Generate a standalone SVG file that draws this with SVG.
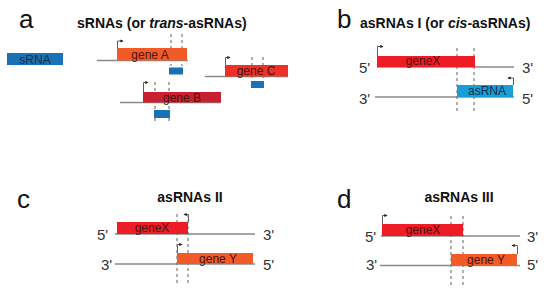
<svg xmlns="http://www.w3.org/2000/svg" width="550" height="293" viewBox="0 0 550 293">
<defs>
<marker id="ah" viewBox="0 0 6 6" refX="5" refY="3" markerWidth="4" markerHeight="4" orient="auto">
<path d="M0,0 L6,3 L0,6 z" fill="#222"/>
</marker>
<style>
.letter{font-family:"Liberation Sans",Arial,sans-serif;font-size:26px;fill:#111}
.title{font-family:"Liberation Sans",Arial,sans-serif;font-size:14px;font-weight:bold;fill:#111}
.end{font-family:"Liberation Sans",Arial,sans-serif;font-size:15px;fill:#333}
.lbl{font-family:"Liberation Sans",Arial,sans-serif;font-size:12px;fill:#4a1414;text-anchor:middle}
.lblb{font-family:"Liberation Sans",Arial,sans-serif;font-size:12px;fill:#103048;text-anchor:middle}
.strand{stroke:#8a8a8a;stroke-width:1.3;fill:none}
.dash{stroke:#7a7a7a;stroke-width:1.2;stroke-dasharray:3,3;fill:none}
.tss{stroke:#333;stroke-width:0.8;fill:none;marker-end:url(#ah)}
.red{fill:#ee1c24}
.orng{fill:#f25a28}
.blue{fill:#1a72b6}
.cyan{fill:#1a9ed6}
</style>
</defs>
<rect width="550" height="293" fill="#fff"/>

<!-- Panel titles -->
<text class="letter" x="19" y="28">a</text>
<text class="title" x="77" y="28">sRNAs (or <tspan font-style="italic">trans</tspan>-asRNAs)</text>
<text class="letter" x="337" y="28">b</text>
<text class="title" x="360" y="28">asRNAs I (or <tspan font-style="italic">cis</tspan>-asRNAs)</text>
<text class="letter" x="17" y="208">c</text>
<text class="title" x="190" y="202" text-anchor="middle">asRNAs II</text>
<text class="letter" x="337" y="208">d</text>
<text class="title" x="459" y="202" text-anchor="middle">asRNAs III</text>

<!-- End labels -->
<g id="ends">
<text class="end" x="359" y="73">5'</text>
<text class="end" x="522" y="73">3'</text>
<text class="end" x="359" y="104">3'</text>
<text class="end" x="522" y="104">5'</text>
<text class="end" x="97" y="240">5'</text>
<text class="end" x="263" y="240">3'</text>
<text class="end" x="101" y="270">3'</text>
<text class="end" x="263" y="270">5'</text>
<text class="end" x="365" y="242">5'</text>
<text class="end" x="527" y="242">3'</text>
<text class="end" x="366" y="270">3'</text>
<text class="end" x="527" y="270">5'</text>
</g>

<!-- Strands and markers -->
<g id="connectors">
<!-- panel a -->
<line class="strand" x1="97" y1="60.5" x2="188" y2="60.5"/>
<line class="strand" x1="205" y1="76.5" x2="288" y2="76.5"/>
<line class="strand" x1="120" y1="102.5" x2="221" y2="102.5"/>
<path class="tss" d="M117.5,48 V41 H123"/>
<path class="tss" d="M225.5,65 V57.5 H230"/>
<path class="tss" d="M143.5,92 V82.5 H148"/>
<line class="dash" x1="171" y1="34" x2="171" y2="66"/>
<line class="dash" x1="182" y1="34" x2="182" y2="66"/>
<line class="dash" x1="252" y1="57" x2="252" y2="81"/>
<line class="dash" x1="263" y1="57" x2="263" y2="81"/>
<line class="dash" x1="155" y1="82" x2="155" y2="123"/>
<line class="dash" x1="169" y1="82" x2="169" y2="123"/>
<!-- panel b -->
<line class="strand" x1="377" y1="67" x2="514" y2="67"/>
<line class="strand" x1="375" y1="97" x2="514" y2="97"/>
<path class="tss" d="M377.5,56 V46.5 H383"/>
<path class="tss" d="M513.5,85 V78 H508"/>
<line class="dash" x1="457" y1="48" x2="457" y2="112"/>
<line class="dash" x1="474" y1="48" x2="474" y2="112"/>
<!-- panel c -->
<line class="strand" x1="115" y1="234" x2="255" y2="234"/>
<line class="strand" x1="115" y1="264" x2="255" y2="264"/>
<path class="tss" d="M188.5,222 V214.5 H184"/>
<path class="tss" d="M177.5,253 V244.5 H182"/>
<line class="dash" x1="177" y1="214" x2="177" y2="285"/>
<line class="dash" x1="188" y1="214" x2="188" y2="285"/>
<!-- panel d -->
<line class="strand" x1="381" y1="236" x2="520" y2="236"/>
<line class="strand" x1="380" y1="265.5" x2="520" y2="265.5"/>
<path class="tss" d="M382.5,224 V215.5 H387"/>
<path class="tss" d="M517.5,254 V245.5 H512"/>
<line class="dash" x1="451" y1="216" x2="451" y2="285"/>
<line class="dash" x1="463" y1="216" x2="463" y2="285"/>
</g>

<!-- Panel a nodes -->
<g id="sRNA"><rect class="blue" x="7" y="53" width="56" height="12"/><text class="lblb" x="35" y="63.5">sRNA</text></g>
<g id="geneA"><rect class="orng" x="117" y="48" width="70" height="12.5"/><text class="lbl" x="150" y="58.5">gene A</text></g>
<g id="sRNA-A"><rect class="blue" x="169" y="67.5" width="14" height="7"/></g>
<g id="geneC"><rect fill="#f03028" x="225" y="65" width="63" height="11.5"/><text class="lbl" x="256" y="75">gene C</text></g>
<g id="sRNA-C"><rect class="blue" x="251" y="81" width="13" height="7"/></g>
<g id="geneB"><rect fill="#c8202e" x="143" y="92" width="78" height="10.5"/><text class="lbl" x="182" y="101.5">gene B</text></g>
<g id="sRNA-B"><rect class="blue" x="154" y="110" width="16" height="8"/></g>

<!-- Panel b nodes -->
<g id="b-geneX"><rect class="red" x="377" y="56" width="98" height="11"/><text class="lbl" x="423" y="65">geneX</text></g>
<g id="b-asRNA"><rect class="cyan" x="457" y="85" width="56" height="12"/><text class="lblb" x="487" y="95">asRNA</text></g>

<!-- Panel c nodes -->
<g id="c-geneX"><rect class="red" x="117" y="222" width="71" height="12"/><text class="lbl" x="152" y="232">geneX</text></g>
<g id="c-geneY"><rect class="orng" x="177" y="253" width="76" height="11"/><text class="lbl" x="218" y="263">gene Y</text></g>

<!-- Panel d nodes -->
<g id="d-geneX"><rect class="red" x="382" y="224" width="81" height="12"/><text class="lbl" x="423" y="234">geneX</text></g>
<g id="d-geneY"><rect class="orng" x="451" y="254" width="66" height="11.5"/><text class="lbl" x="486" y="264">gene Y</text></g>
</svg>
